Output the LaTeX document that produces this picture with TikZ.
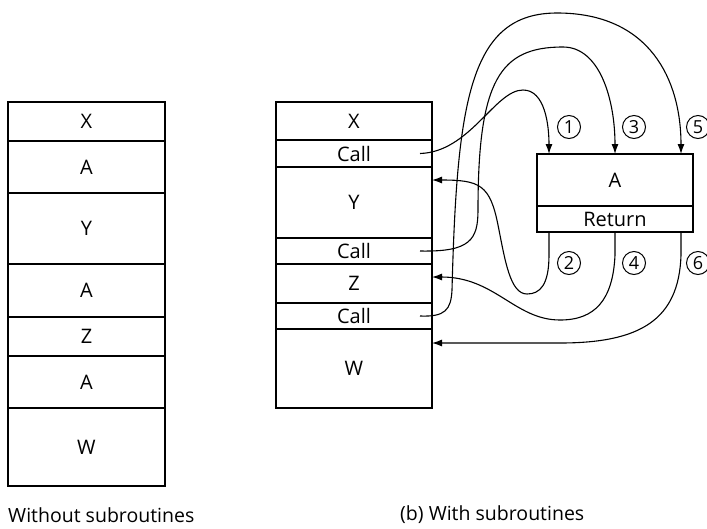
\documentclass[tikz,border=0pt]{standalone}
\usepackage{fontspec}
\setmainfont{Open Sans}
\usetikzlibrary{arrows.meta, positioning}

\begin{document}
\begin{tikzpicture}[
    x=1pt, y=-1pt,
    block/.style={draw, rectangle, minimum width=156, minimum height=#1, inner sep=0pt, outer sep=0pt, line width=1.2pt, font=\fontsize{20}{20}\selectfont},
    block/.default=39,
    flow/.style={-{Latex[length=10pt, width=7pt]}, line width=1.1pt},
    num/.style={circle, draw, line width=1pt, inner sep=0pt, minimum size=23, font=\fontsize{18}{18}\selectfont},
    caption/.style={anchor=west, inner sep=0pt, font=\fontsize{19.5}{19.5}\selectfont}
]
\useasboundingbox (0,0) rectangle (707,528);

% --- Without subroutines ---
\node[block=39, minimum width=157] (lx) at (86.5,121.5) {X};
\node[block=52, minimum width=157, below=0pt of lx]  (la1) {A};
\node[block=71, minimum width=157, below=0pt of la1] (ly)  {Y};
\node[block=53, minimum width=157, below=0pt of ly]  (la2) {A};
\node[block=39, minimum width=157, below=0pt of la2] (lz)  {Z};
\node[block=52, minimum width=157, below=0pt of lz]  (la3) {A};
\node[block=78, minimum width=157, below=0pt of la3] (lw)  {W};

% --- With subroutines: main program ---
\node[block=38] (mx) at (354,121) {X};
\node[block=27, below=0pt of mx]     (mcall1) {Call};
\node[block=71, below=0pt of mcall1] (my)     {Y};
\node[block=26, below=0pt of my]     (mcall2) {Call};
\node[block=39, below=0pt of mcall2] (mz)     {Z};
\node[block=26, below=0pt of mz]     (mcall3) {Call};
\node[block=79, below=0pt of mcall3] (mw)     {W};

% --- Subroutine A ---
\node[block=52] (suba) at (615,180) {A};
\node[block=26, below=0pt of suba] (subret) {Return};

% --- Step numbers ---
\node[num] (n1) at (569,127) {1};
\node[num] (n3) at (634,127) {3};
\node[num] (n5) at (698,127) {5};
\node[num] (n2) at (569,263) {2};
\node[num] (n4) at (634,263) {4};
\node[num] (n6) at (698,263) {6};

% --- Calls ---
\draw[flow] ([xshift=-12pt]mcall1.east) .. controls (470,152) and (495,90) .. (523,90)
    .. controls (545,90) and (549,125) .. ([xshift=12pt]suba.north west);
\draw[flow] ([xshift=-12pt]mcall2.east) .. controls (470,252) and (478,240) .. (478,210)
    .. controls (478,80) and (500,47) .. (563,47)
    .. controls (600,47) and (615,100) .. (suba.north);
\draw[flow] ([xshift=-12pt]mcall3.east) .. controls (445,317) and (451,310) .. (452,290)
    .. controls (457,100) and (470,13) .. (557,13)
    .. controls (650,13) and (681,80) .. ([xshift=-12pt]suba.north east);

% --- Returns ---
\draw[flow] ([xshift=12pt]subret.south west) -- (549,255) .. controls (549,285) and (540,294) .. (527,294)
    .. controls (510,294) and (505,260) .. (498,225)
    .. controls (490,185) and (480,180) .. ([yshift=22.5pt]my.east);
\draw[flow] (subret.south) -- (615,255) .. controls (613,300) and (595,320) .. (560,320)
    .. controls (515,320) and (495,277) .. ([yshift=6.5pt]mz.east);
\draw[flow] ([xshift=-12pt]subret.south east) -- (681,255) .. controls (679,320) and (640,343) .. (560,343)
    -- ([yshift=-14pt]mw.north east);

% --- Captions ---
\node[caption] (capa) at (8,515) {Without subroutines};
\node[caption] (capb) at (400,515) {(b) With subroutines};

\end{tikzpicture}
\end{document}
